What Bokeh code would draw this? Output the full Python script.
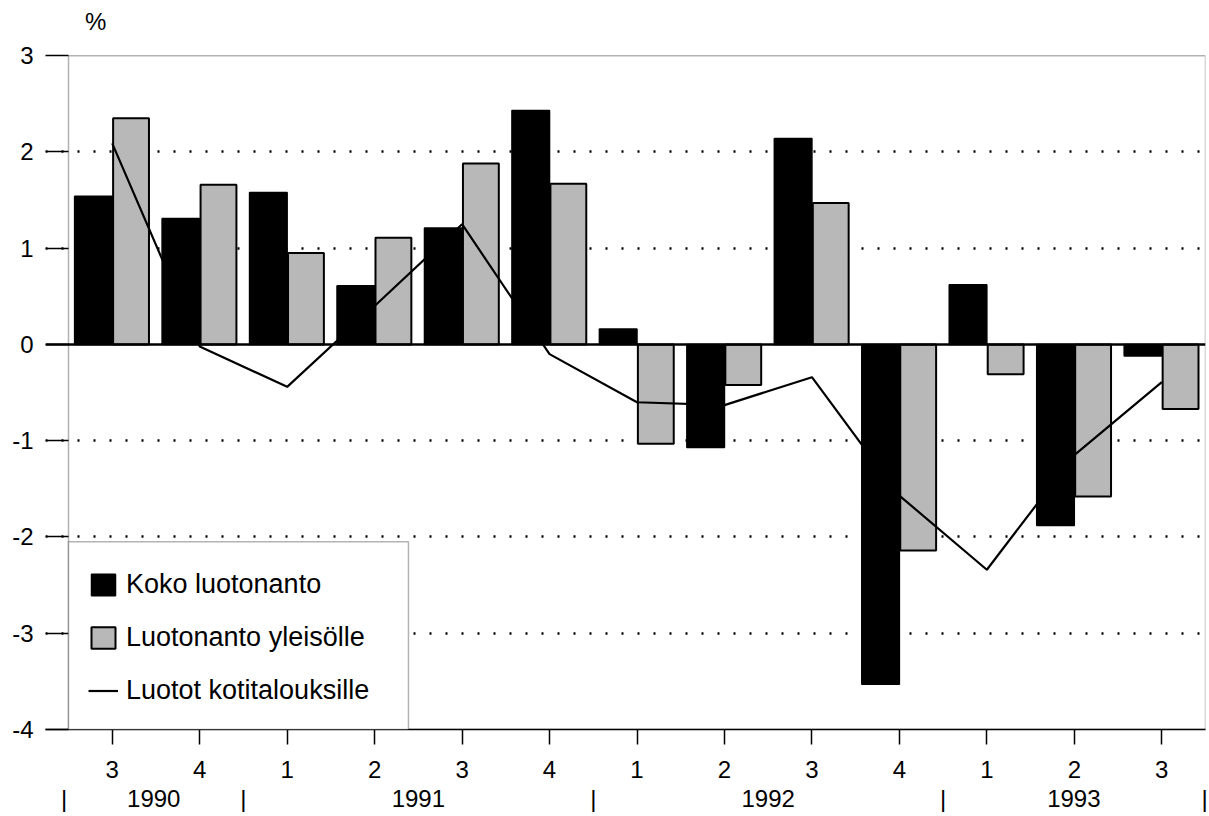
from bokeh.plotting import figure
from bokeh.models import (Range1d, LinearAxis, FixedTicker, Span, BoxAnnotation,
                          Legend, LegendItem, Label, ColumnDataSource)
from bokeh.transform import dodge
from bokeh.embed import file_html
from bokeh.resources import INLINE

# ---- data ----
quarters = ["3", "4", "1", "2", "3", "4", "1", "2", "3", "4", "1", "2", "3"]
years = [1990, 1990, 1991, 1991, 1991, 1991, 1992, 1992, 1992, 1992, 1993, 1993, 1993]
koko_luotonanto = [1.54, 1.31, 1.58, 0.61, 1.21, 2.43, 0.16, -1.07, 2.14, -3.53, 0.62, -1.88, -0.12]
luotonanto_yleisolle = [2.35, 1.66, 0.95, 1.11, 1.88, 1.67, -1.03, -0.42, 1.47, -2.14, -0.31, -1.58, -0.67]
luotot_kotitalouksille = [2.09, -0.02, -0.44, 0.40, 1.25, -0.10, -0.60, -0.63, -0.34, -1.57, -2.34, -1.15, -0.39]
y_ticks = [-4, -3, -2, -1, 0, 1, 2, 3]

FONT = "Liberation Sans"
FS = "24px"
idx = list(range(len(quarters)))
src = ColumnDataSource(dict(x=idx, koko=koko_luotonanto, yle=luotonanto_yleisolle,
                            koti=luotot_kotitalouksille))

y_min, y_max = min(y_ticks), max(y_ticks)
x_lo = -0.5 - 0.263   # room for the inward value-axis ticks
x_hi = len(quarters) - 0.5
y_top = y_max + 0.47  # room above the plot box for the unit mark
p = figure(width=1209, height=816, x_range=Range1d(x_lo, x_hi),
           y_range=Range1d(y_min, y_top), output_backend="svg", toolbar_location=None,
           min_border_left=45, min_border_right=4, min_border_top=10, min_border_bottom=87)
p.background_fill_color = "white"
p.outline_line_color = None
p.title.visible = False

# grid
p.xgrid.visible = False
p.ygrid.ticker = FixedTicker(ticks=[t for t in y_ticks if t not in (0, y_min, y_max)])
p.ygrid.grid_line_color = "black"
p.ygrid.grid_line_width = 2.4
p.ygrid.grid_line_dash = "2 14"

# axes
p.yaxis.ticker = FixedTicker(ticks=y_ticks)
p.yaxis.major_label_overrides = {t: str(t) for t in y_ticks}
p.xaxis.ticker = FixedTicker(ticks=idx)
p.xaxis.major_label_overrides = {i: q for i, q in zip(idx, quarters)}
for ax in (p.xaxis[0], p.yaxis[0]):
    ax.axis_line_width = 1.5
    ax.axis_line_color = "black"
    ax.major_tick_line_color = "black"
    ax.major_tick_line_width = 1.5
    ax.minor_tick_line_color = None
    ax.major_label_text_font = FONT
    ax.major_label_text_font_size = FS
    ax.major_label_text_color = "black"
p.yaxis.axis_line_color = None
p.yaxis.major_tick_in = 23
p.yaxis.major_tick_out = 0
p.yaxis.major_label_standoff = 12
p.xaxis.major_tick_in = 0
p.xaxis.major_tick_out = 15
p.xaxis.major_label_standoff = 16

# year axis: separators at year boundaries, year names centred between them
year_names = sorted(set(years))
bounds = [i - 0.5 for i in idx[1:] if years[i] != years[i - 1]]
seps = [idx[0] - 0.55] + bounds + [idx[-1] + 0.49]
year_pos = [(a + b) / 2 for a, b in zip(seps[:-1], seps[1:])]
ticks2 = year_pos + seps
over2 = {t: str(y) for t, y in zip(year_pos, year_names)}
for b in seps:
    over2[b] = "|"
ya = LinearAxis(ticker=FixedTicker(ticks=ticks2), major_label_overrides=over2,
                axis_line_color=None, major_tick_line_color=None, minor_tick_line_color=None,
                major_label_standoff=-2, major_label_text_font=FONT,
                major_label_text_font_size=FS, major_label_text_color="black")
p.add_layout(ya, "below")

# bars
r1 = p.vbar(x=dodge("x", -0.215, range=p.x_range), top="koko", bottom=0, width=0.43,
            source=src, fill_color="black", line_color="black", line_width=1.5)
r2 = p.vbar(x=dodge("x", 0.215, range=p.x_range), top="yle", bottom=0, width=0.41,
            source=src, fill_color="#b8b8b8", line_color="black", line_width=2)
p.add_layout(Span(location=0, dimension="width", line_color="black", line_width=2.5))
r3 = p.line(x="x", y="koti", source=src, line_color="black", line_width=2.2)

# plot box
p.add_layout(BoxAnnotation(left=-0.5, right=x_hi, top=y_max, bottom=y_min,
                           fill_alpha=0, line_color="black", line_width=1.5))

# unit mark
p.add_layout(Label(x=-0.19, y=y_max + 0.36, text="%", text_align="center",
                   text_baseline="middle", text_font=FONT, text_font_size=FS,
                   text_color="black"))

# legend frame
p.add_layout(BoxAnnotation(left=-0.5, right=3.387, top=-2.05, bottom=y_min,
                           fill_color="white", fill_alpha=1.0,
                           line_color="black", line_width=1.5))
legend = Legend(items=[LegendItem(label="Koko luotonanto", renderers=[r1]),
                       LegendItem(label="Luotonanto yleisölle", renderers=[r2]),
                       LegendItem(label="Luotot kotitalouksille", renderers=[r3])],
                location=(33, 13), border_line_alpha=0, background_fill_alpha=0,
                label_text_font=FONT, label_text_font_size="27px", label_text_color="black",
                glyph_width=30, glyph_height=27, spacing=22, padding=10, margin=0,
                label_standoff=8)
p.add_layout(legend, "center")

open("out.html", "w").write(file_html(p, INLINE))
